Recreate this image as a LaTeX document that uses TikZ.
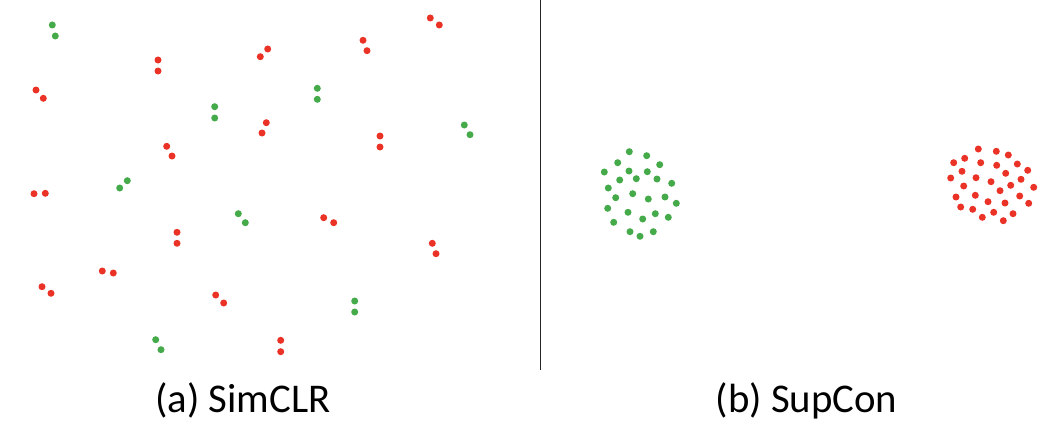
\documentclass[tikz,border=0pt]{standalone}
\usepackage{fontspec}
\setmainfont{Carlito}
\definecolor{dotred}{RGB}{234,50,38}
\definecolor{dotgreen}{RGB}{68,170,74}
\begin{document}
\begin{tikzpicture}[x=1pt,y=-1pt,
  rdot/.style={circle,fill=dotred,inner sep=0pt,minimum size=7pt},
  gdot/.style={circle,fill=dotgreen,inner sep=0pt,minimum size=7pt},
  caption/.style={anchor=base,font=\fontsize{40.8}{48}\selectfont,inner sep=0pt}]
\useasboundingbox (0,0) rectangle (1056,428);
% left panel: SimCLR
\foreach \x/\y [count=\i] in {158/60,158/71,260.3/56.7,267.7/49,36/90,43.3/98.3,266.3/122.7,262/133,166.7/146.3,172/156,
  430.3/18,439.3/25,363/40.3,367/50.7,380/136,380/147,34/193.7,45.3/193.3,177/232.3,177/243.3,
  102.3/271,113.3/273,42/286.7,51/293.3,215.7/295,223.7/303,323.7/217.7,333.7/222.7,432.3/243.3,436/253.7,
  280.7/340.3,280.7/351.7}
  \node[rdot] (ar\i) at (\x,\y) {};
\foreach \x/\y [count=\i] in {52.3/25,55.3/36,214.7/106.7,214.7/118,127.3/180.7,119.7/188,317.3/88.3,317.3/99.3,
  464.3/125,470/134.7,238.3/213.7,245.3/222.7,155.7/339.7,161/349.7,354.7/301,354.7/312}
  \node[gdot] (ag\i) at (\x,\y) {};
% divider
\coordinate (divtop) at (540.7,0);
\coordinate (divbot) at (540.7,370);
\draw[line width=0.9pt,black!85] (divtop) -- (divbot);
% right panel: SupCon
\foreach \x/\y [count=\i] in {629.3/151.7,646.7/155.7,617.7/162.7,659.7/164.7,604.3/172,629/171,647.3/171.7,619.7/180,
  636.3/178.7,657/179,671.7/183.3,608.3/188,632.7/193.7,615.7/197.7,648.3/199,665/197,676.3/203.3,607.7/208.3,
  628/212.3,655.3/213.7,642.7/219,668.3/217.3,613.7/222.3,630/231.7,640/236.3,653.3/231.7}
  \node[gdot] (bg\i) at (\x,\y) {};
\foreach \x/\y [count=\i] in {978.3/149,996.3/151.3,1008.3/155,964.7/158.3,953.7/162.7,980.7/162.7,996.7/165.3,1017.3/164,
  962/171.3,1005.7/173.3,1027.7/170.3,950.7/178,976/177.7,991/181.7,1021/179.3,963.7/186,1010.7/185.3,1033.7/187.3,
  1000/190.7,956/197,975.3/195.3,1019.7/196,988/201.7,1005/203,1028.7/203.3,960.7/207,972.7/209.3,993.7/212.3,
  1013/213.7,982.3/217.3,1003.3/220.7}
  \node[rdot] (br\i) at (\x,\y) {};
% captions
\node[caption] (capa) at (243,412.5) {(a) SimCLR};
\node[caption] (capb) at (806.5,412.5) {(b) SupCon};
\end{tikzpicture}
\end{document}
